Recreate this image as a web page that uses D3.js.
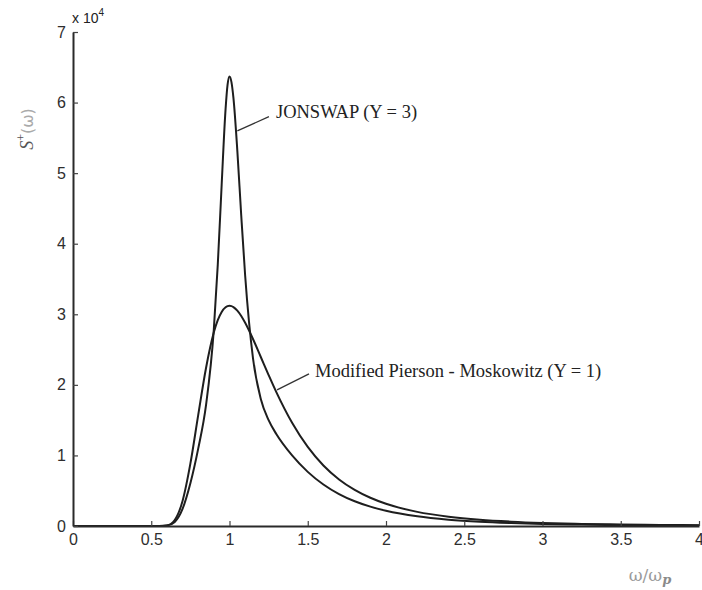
<!DOCTYPE html>
<html><head><meta charset="utf-8">
<script src="https://cdn.jsdelivr.net/npm/d3@7"></script>
<style>body{margin:0;background:#fff} svg{display:block;background:#fff}</style>
</head><body><svg id="c" width="702" height="590"></svg>
<script>
// omega / omega_p
const omegaRatio = [0, 0.5, 0.55, 0.6, 0.65, 0.7, 0.75, 0.8, 0.85, 0.9,
  0.925, 0.95, 0.975, 0.9875, 1.0, 1.0125, 1.025, 1.05, 1.075, 1.1,
  1.15, 1.2, 1.25, 1.3, 1.4, 1.5, 1.6, 1.7, 1.8, 1.9,
  2.0, 2.2, 2.4, 2.6, 2.8, 3.0, 3.25, 3.5, 3.75, 4.0];
// S+(omega), units of 10^4
const jonswap = [0, 0, 0.0002, 0.006, 0.058, 0.243, 0.606, 1.096, 1.712, 2.79,
  3.70, 4.84, 5.91, 6.25, 6.37, 6.29, 6.07, 5.32, 4.40, 3.55,
  2.38, 1.80, 1.50, 1.30, 1.00, 0.767, 0.588, 0.452, 0.350, 0.274,
  0.216, 0.137, 0.090, 0.061, 0.043, 0.030, 0.020, 0.014, 0.010, 0.007];
const piersonMoskowitz = [0, 0, 0.0003, 0.009, 0.085, 0.355, 0.883, 1.571, 2.239, 2.744,
  2.916, 3.033, 3.099, 3.115, 3.12, 3.115, 3.101, 3.051, 2.975, 2.879,
  2.650, 2.395, 2.139, 1.893, 1.462, 1.120, 0.858, 0.660, 0.512, 0.400,
  0.315, 0.200, 0.132, 0.089, 0.062, 0.044, 0.030, 0.021, 0.015, 0.011];
const xTicks = [0, 0.5, 1, 1.5, 2, 2.5, 3, 3.5, 4];
const xTickLabels = ["0", "0.5", "1", "1.5", "2", "2.5", "3", "3.5", "4"];
const yTicks = [0, 1, 2, 3, 4, 5, 6, 7];
const yTickLabels = ["0", "1", "2", "3", "4", "5", "6", "7"];
const seriesLabels = ["JONSWAP (\u03A5 = 3)", "Modified Pierson - Moskowitz (\u03A5 = 1)"];

const svg = d3.select("#c");
const x = d3.scaleLinear().domain([0, 4]).range([73, 699]);
const y = d3.scaleLinear().domain([0, 7]).range([526, 32]);

const tickColor = "#2e2e2e";

// curves
const line = d3.line().x(d => x(d[0])).y(d => y(d[1])).curve(d3.curveMonotoneX);
[jonswap, piersonMoskowitz].forEach(s => {
  svg.append("path")
    .attr("d", line(omegaRatio.map((w, i) => [w, s[i]])))
    .attr("fill", "none").attr("stroke", "#1e1e1e").attr("stroke-width", 2)
    .attr("stroke-linejoin", "round");
});

// axes
const xAxis = d3.axisBottom(x).tickValues(xTicks).tickFormat((d, i) => xTickLabels[i])
  .tickSizeInner(-5).tickSizeOuter(0).tickPadding(8);
const gx = svg.append("g").attr("transform", `translate(0,${y(0)})`).call(xAxis);
const yAxis = d3.axisLeft(y).tickValues(yTicks).tickFormat((d, i) => yTickLabels[i])
  .tickSizeInner(-5).tickSizeOuter(0).tickPadding(7);
const gy = svg.append("g").attr("transform", `translate(${x(0)},0)`).call(yAxis);
[gx, gy].forEach(g => {
  g.select(".domain").attr("stroke", "#2a2a2a").attr("stroke-width", 2);
  g.selectAll(".tick line").attr("stroke", "#444").attr("stroke-width", 1.2);
  g.selectAll(".tick text").attr("fill", tickColor)
    .style("font-family", "'Liberation Sans', Arial, sans-serif").style("font-size", "16px");
});

// exponent label
const ex = svg.append("text").attr("x", 72).attr("y", 23)
  .style("font-family", "'Liberation Sans', Arial, sans-serif").style("font-size", "14px")
  .attr("fill", "#222");
ex.append("tspan").text("x 10");
ex.append("tspan").attr("dy", -7).style("font-size", "10px").text("4");

// axis titles
const xt = svg.append("text").attr("x", 650).attr("y", 581).attr("text-anchor", "middle")
  .attr("fill", "#9a9a9a")
  .style("font-family", "'DejaVu Serif', 'Liberation Serif', serif").style("font-size", "17px");
xt.append("tspan").text("\u03C9/\u03C9");
xt.append("tspan").attr("dy", 3).style("font-size", "13px").style("font-style", "italic")
  .style("font-weight", "bold").attr("fill", "#8a8a8a").text("p");

const yt = svg.append("text").attr("transform", "translate(33,129) rotate(-90)")
  .attr("text-anchor", "middle")
  .style("font-family", "'Liberation Serif', 'Times New Roman', serif").style("font-size", "18px");
yt.append("tspan").style("font-style", "italic").attr("fill", "#555").text("S");
yt.append("tspan").attr("dy", -8).style("font-size", "12px").attr("fill", "#555").text("+");
yt.append("tspan").attr("dy", 8).attr("fill", "#aaa")
  .style("font-family", "'DejaVu Sans', sans-serif").style("font-size", "16px").text("(\u03C9)");

// annotations
const ann = [
  { from: [1.05, 5.6], to: [1.252, 5.80], label: seriesLabels[0], dx: 7, dy: 1 },
  { from: [1.304, 1.93], to: [1.508, 2.156], label: seriesLabels[1], dx: 6, dy: 3 }
];
ann.forEach(a => {
  svg.append("line")
    .attr("x1", x(a.from[0])).attr("y1", y(a.from[1]))
    .attr("x2", x(a.to[0])).attr("y2", y(a.to[1]))
    .attr("stroke", "#333").attr("stroke-width", 1.3);
  svg.append("text").attr("x", x(a.to[0]) + a.dx).attr("y", y(a.to[1]) + a.dy)
    .attr("fill", "#222")
    .style("font-family", "'Liberation Serif', 'Times New Roman', serif").style("font-size", "18.5px")
    .text(a.label);
});
</script>
</body></html>
